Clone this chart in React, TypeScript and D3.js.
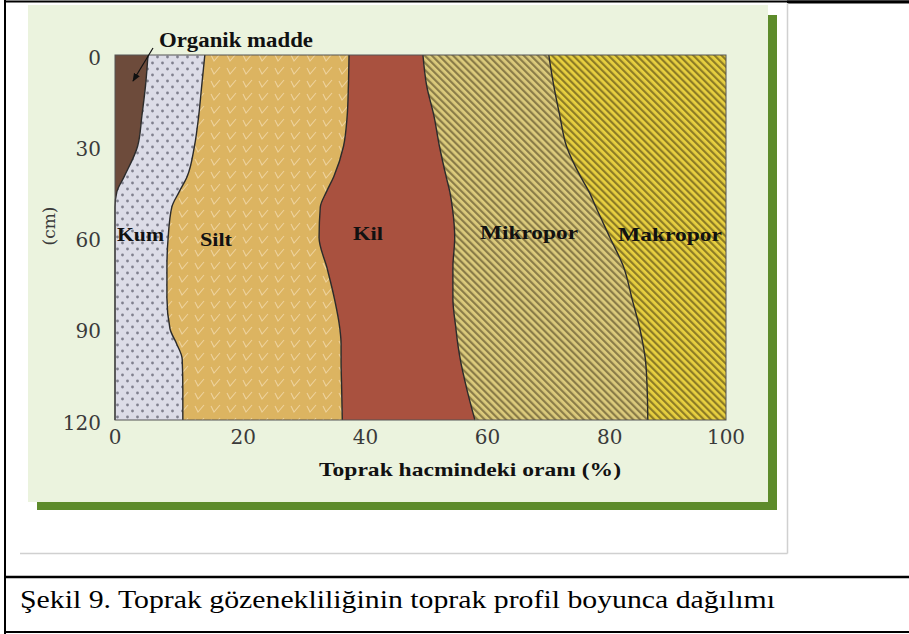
import React from 'react';
import * as d3 from 'd3';

// depth samples (cm) and the share of each soil component (%) at that depth
const depths = [0, 10, 20, 30, 40, 45, 50, 60, 70, 80, 90, 95, 100, 110, 120];
const organik = [5.4, 5.0, 4.4, 3.7, 1.5, 0.3, 0, 0, 0, 0, 0, 0, 0, 0, 0];
const kum = [9.3, 9.2, 9.3, 9.3, 10.3, 10.2, 9.3, 8.7, 8.5, 8.5, 9.0, 10.1, 11.0, 11.1, 11.1];
const silt = [23.6, 24.0, 24.3, 24.4, 24.0, 24.1, 24.3, 24.7, 26.2, 27.4, 27.8, 26.9, 26.0, 26.0, 26.1];
const kil = [12.1, 12.8, 14.2, 15.7, 18.4, 20.2, 21.6, 22.2, 20.6, 19.4, 19.0, 19.1, 19.5, 20.5, 21.7];
const mikropor = [20.6, 20.8, 20.6, 20.8, 22.0, 22.8, 23.5, 25.4, 28.0, 29.3, 30.1, 30.3, 30.3, 29.5, 28.3];
const makropor = [29.0, 28.2, 27.2, 26.1, 23.8, 22.4, 21.3, 19.0, 16.7, 15.4, 14.1, 13.6, 13.2, 12.9, 12.8];

const keys = ['organik', 'kum', 'silt', 'kil', 'mikropor', 'makropor'];
const yTicks = [0, 30, 60, 90, 120];
const xTicks = [0, 20, 40, 60, 80, 100];

const fills: Record<string, string> = {
  organik: '#6d4b3b',
  kum: 'url(#kumPat)',
  silt: 'url(#siltPat)',
  kil: '#a9513f',
  mikropor: 'url(#mikroPat)',
  makropor: 'url(#makroPat)',
};

const x = d3.scaleLinear().domain([0, 100]).range([115, 726]);
const y = d3.scaleLinear().domain([0, 120]).range([55, 420]);

export default function App() {
  const rows = depths.map((d, i) => ({
    depth: d,
    organik: organik[i],
    kum: kum[i],
    silt: silt[i],
    kil: kil[i],
    mikropor: mikropor[i],
    makropor: makropor[i],
  }));
  const series = d3.stack<any>().keys(keys)(rows);

  const area = d3
    .area<any>()
    .y((d) => y(d.data.depth))
    .x0((d) => x(d[0]))
    .x1((d) => x(d[1]))
    .curve(d3.curveMonotoneY);

  const edge = d3
    .line<any>()
    .y((d) => y(d.data.depth))
    .x((d) => x(d[1]))
    .curve(d3.curveMonotoneY);

  const serif = "'Liberation Serif', 'Times New Roman', serif";
  const tickFont = "'DejaVu Serif', serif";

  return (
    <svg width={909} height={634} style={{ position: 'absolute', left: 0, top: 0 }}>
      <defs>
        <pattern id="kumPat" width={10} height={12} patternUnits="userSpaceOnUse">
          <rect width={10} height={12} fill="#dcdce7" />
          <circle cx={2.5} cy={3} r={1.4} fill="#80808e" />
          <circle cx={7.5} cy={9} r={1.4} fill="#80808e" />
        </pattern>
        <pattern id="siltPat" width={16} height={13} patternUnits="userSpaceOnUse">
          <rect width={16} height={13} fill="#dcb461" />
          <path d="M3,3 L6,9 L12,2" fill="none" stroke="#eed29c" strokeWidth={1.1} />
        </pattern>
        <pattern id="mikroPat" width={5} height={5} patternUnits="userSpaceOnUse" patternTransform="rotate(-45)">
          <rect width={5} height={5} fill="#dccb7c" />
          <rect width={2.2} height={5} fill="#8a7c48" />
        </pattern>
        <pattern id="makroPat" width={5} height={5} patternUnits="userSpaceOnUse" patternTransform="rotate(-45)">
          <rect width={5} height={5} fill="#e8d040" />
          <rect width={2.2} height={5} fill="#8d7c25" />
        </pattern>
        <marker id="arrow" viewBox="0 0 10 10" refX={9} refY={5} markerWidth={7} markerHeight={7} orient="auto">
          <path d="M0,1 L10,5 L0,9 Z" fill="#111" />
        </marker>
      </defs>

      {/* table frame */}
      <line x1={5} y1={1.5} x2={909} y2={1.5} stroke="#000" strokeWidth={2} />
      <line x1={787} y1={2} x2={909} y2={2} stroke="#000" strokeWidth={3} />
      <line x1={5} y1={0} x2={5} y2={634} stroke="#000" strokeWidth={2} />
      <line x1={5} y1={577} x2={909} y2={577} stroke="#000" strokeWidth={2.5} />
      <line x1={5} y1={632} x2={909} y2={632} stroke="#000" strokeWidth={2} />

      {/* picture frame */}
      <line x1={787.5} y1={3} x2={787.5} y2={553.5} stroke="#d0d0d0" strokeWidth={1.5} />
      <line x1={20} y1={553.5} x2={787.5} y2={553.5} stroke="#d0d0d0" strokeWidth={1.5} />
      <rect x={28} y={5} width={740} height={497} fill="#ebf3de" />
      <rect x={768} y={15} width={9} height={495} fill="#5d8b2b" />
      <rect x={37} y={502} width={740} height={8} fill="#5d8b2b" />

      {/* layers */}
      {series.map((s) => (
        <path key={s.key} d={area(s) || ''} fill={fills[s.key]} />
      ))}
      {series.slice(0, -1).map((s) => (
        <path key={'e' + s.key} d={edge(s) || ''} fill="none" stroke="#2b2b2b" strokeWidth={1.4} />
      ))}
      <rect x={x(0)} y={y(0)} width={x(100) - x(0)} height={y(120) - y(0)} fill="none" stroke="#555" strokeWidth={1} />

      {/* ticks */}
      {yTicks.map((t) => (
        <text key={'y' + t} x={101} y={y(t) + 4} textAnchor="end" dominantBaseline="middle"
          fontFamily={tickFont} fontSize={20} fill="#3a3a3a">{t}</text>
      ))}
      {xTicks.map((t) => (
        <text key={'x' + t} x={x(t) + (t === 0 || t === 100 ? 0 : 6)} y={438} textAnchor="middle" dominantBaseline="middle"
          fontFamily={tickFont} fontSize={20} fill="#3a3a3a">{t}</text>
      ))}
      <text transform="translate(50,226) rotate(-90)" textAnchor="middle" dominantBaseline="middle"
        fontFamily={tickFont} fontSize={17} fill="#3a3a3a">(cm)</text>
      <text x={470} y={476} textAnchor="middle" fontFamily={serif} fontSize={19} fontWeight="bold" fill="#111"
        textLength={302} lengthAdjust="spacingAndGlyphs">Toprak hacmindeki  oranı (%)</text>

      {/* layer labels */}
      <text x={159} y={47} fontFamily={serif} fontSize={20} fontWeight="bold" fill="#111"
        textLength={154} lengthAdjust="spacingAndGlyphs">Organik madde</text>
      <line x1={153} y1={48} x2={133} y2={81} stroke="#111" strokeWidth={1.2} markerEnd="url(#arrow)" />
      {[
        { t: 'Kum', x: 117, y: 241, w: 47 },
        { t: 'Silt', x: 200, y: 246, w: 32 },
        { t: 'Kil', x: 353, y: 240, w: 30 },
        { t: 'Mikropor', x: 480, y: 239, w: 98 },
        { t: 'Makropor', x: 618, y: 241, w: 104 },
      ].map((l) => (
        <text key={l.t} x={l.x} y={l.y} fontFamily={serif} fontSize={19} fontWeight="bold" fill="#111"
          textLength={l.w} lengthAdjust="spacingAndGlyphs">{l.t}</text>
      ))}

      <text x={20} y={608} fontFamily={serif} fontSize={26} fill="#000"
        textLength={755} lengthAdjust="spacingAndGlyphs">
        Şekil 9. Toprak gözenekliliğinin toprak profil boyunca  dağılımı
      </text>
    </svg>
  );
}
